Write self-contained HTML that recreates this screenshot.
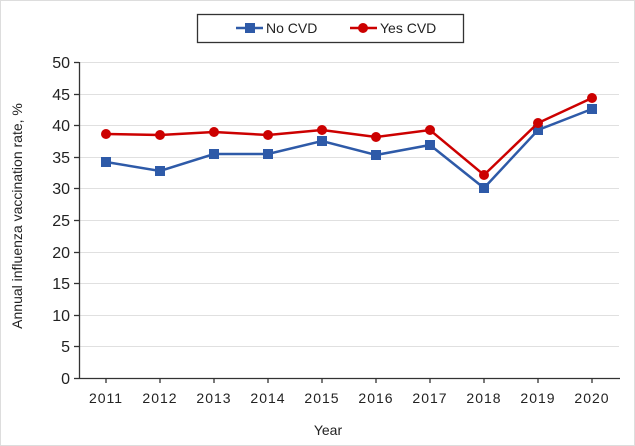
<!DOCTYPE html>
<html><head><meta charset="utf-8"><style>
html,body{margin:0;padding:0;background:#fff}
svg{display:block}
text{font-family:"Liberation Sans",sans-serif;fill:#222}
</style></head><body>
<svg width="635" height="446" viewBox="0 0 635 446">
<rect x="0.5" y="0.5" width="634" height="445" fill="#fff" stroke="#ddd"/>
<g stroke="#e0e0e0" stroke-width="1">
<line x1="79" x2="619" y1="62.5" y2="62.5"/><line x1="79" x2="619" y1="94.5" y2="94.5"/>
<line x1="79" x2="619" y1="125.5" y2="125.5"/><line x1="79" x2="619" y1="157.5" y2="157.5"/>
<line x1="79" x2="619" y1="188.5" y2="188.5"/><line x1="79" x2="619" y1="220.5" y2="220.5"/>
<line x1="79" x2="619" y1="252.5" y2="252.5"/><line x1="79" x2="619" y1="283.5" y2="283.5"/>
<line x1="79" x2="619" y1="315.5" y2="315.5"/><line x1="79" x2="619" y1="346.5" y2="346.5"/>
</g>
<g stroke="#333" stroke-width="1.3">
<line x1="79.5" x2="79.5" y1="62" y2="378"/><line x1="79" x2="620" y1="378.5" y2="378.5"/>
<line x1="74" x2="79" y1="62.5" y2="62.5"/><line x1="74" x2="79" y1="94.5" y2="94.5"/>
<line x1="74" x2="79" y1="125.5" y2="125.5"/><line x1="74" x2="79" y1="157.5" y2="157.5"/>
<line x1="74" x2="79" y1="188.5" y2="188.5"/><line x1="74" x2="79" y1="220.5" y2="220.5"/>
<line x1="74" x2="79" y1="252.5" y2="252.5"/><line x1="74" x2="79" y1="283.5" y2="283.5"/>
<line x1="74" x2="79" y1="315.5" y2="315.5"/><line x1="74" x2="79" y1="346.5" y2="346.5"/>
<line x1="74" x2="79" y1="378.5" y2="378.5"/>
<line x1="106" x2="106" y1="378" y2="383"/><line x1="160" x2="160" y1="378" y2="383"/>
<line x1="214" x2="214" y1="378" y2="383"/><line x1="268" x2="268" y1="378" y2="383"/>
<line x1="322" x2="322" y1="378" y2="383"/><line x1="376" x2="376" y1="378" y2="383"/>
<line x1="430" x2="430" y1="378" y2="383"/><line x1="484" x2="484" y1="378" y2="383"/>
<line x1="538" x2="538" y1="378" y2="383"/><line x1="592" x2="592" y1="378" y2="383"/>
</g>
<g font-size="16" text-anchor="end">
<text x="70" y="68">50</text><text x="70" y="100">45</text><text x="70" y="131">40</text>
<text x="70" y="163">35</text><text x="70" y="194">30</text><text x="70" y="226">25</text>
<text x="70" y="258">20</text><text x="70" y="289">15</text><text x="70" y="321">10</text>
<text x="70" y="352">5</text><text x="70" y="384">0</text>
</g>
<g font-size="14" text-anchor="middle" letter-spacing="1">
<text x="106" y="403">2011</text><text x="160" y="403">2012</text><text x="214" y="403">2013</text>
<text x="268" y="403">2014</text><text x="322" y="403">2015</text><text x="376" y="403">2016</text>
<text x="430" y="403">2017</text><text x="484" y="403">2018</text><text x="538" y="403">2019</text>
<text x="592" y="403">2020</text>
</g>
<text x="328" y="435" font-size="14" text-anchor="middle">Year</text>
<text transform="translate(22,216) rotate(-90)" font-size="14" text-anchor="middle">Annual influenza vaccination rate, %</text>
<polyline fill="none" stroke="#2e5aa8" stroke-width="2.5" points="106,162 160,171 214,154 268,154 322,141 376,155 430,145 484,188 538,130 592,109"/>
<g fill="#2e5aa8">
<rect x="101" y="157" width="10" height="10"/><rect x="155" y="166" width="10" height="10"/>
<rect x="209" y="149" width="10" height="10"/><rect x="263" y="149" width="10" height="10"/>
<rect x="317" y="136" width="10" height="10"/><rect x="371" y="150" width="10" height="10"/>
<rect x="425" y="140" width="10" height="10"/><rect x="479" y="183" width="10" height="10"/>
<rect x="533" y="125" width="10" height="10"/><rect x="587" y="104" width="10" height="10"/>
</g>
<polyline fill="none" stroke="#cc0000" stroke-width="2.5" points="106,134 160,135 214,132 268,135 322,130 376,137 430,130 484,175 538,123 592,98"/>
<g fill="#cc0000">
<circle cx="106" cy="134" r="5"/><circle cx="160" cy="135" r="5"/><circle cx="214" cy="132" r="5"/>
<circle cx="268" cy="135" r="5"/><circle cx="322" cy="130" r="5"/><circle cx="376" cy="137" r="5"/>
<circle cx="430" cy="130" r="5"/><circle cx="484" cy="175" r="5"/><circle cx="538" cy="123" r="5"/>
<circle cx="592" cy="98" r="5"/>
</g>
<rect x="197.5" y="14.5" width="266" height="28" fill="#fff" stroke="#333" stroke-width="1.3"/>
<line x1="236" x2="263" y1="28" y2="28" stroke="#2e5aa8" stroke-width="2.5"/>
<rect x="245" y="23" width="10" height="10" fill="#2e5aa8"/>
<text x="266" y="33" font-size="14">No CVD</text>
<line x1="350" x2="377" y1="28" y2="28" stroke="#cc0000" stroke-width="2.5"/>
<circle cx="363" cy="28" r="5" fill="#cc0000"/>
<text x="380" y="33" font-size="14">Yes CVD</text>
</svg>
</body></html>
